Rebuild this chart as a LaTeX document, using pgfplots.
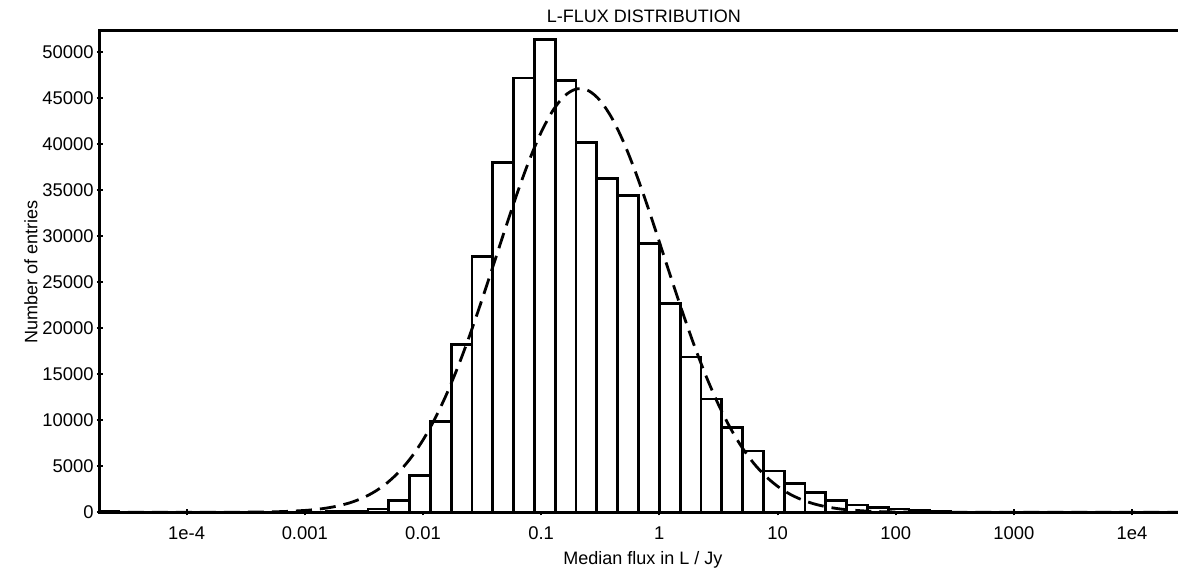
\documentclass[border=0pt]{standalone}
\usepackage{fontspec}
\setmainfont{Liberation Sans}
\usepackage{pgfplots}
\pgfplotsset{compat=1.18}
\begin{document}
\begin{tikzpicture}
\begin{axis}[
  name=ax, anchor=south west, at={(0pt,0pt)},
  width=539pt, height=240.65pt, scale only axis,
  xmode=log, log basis x=10,
  xmin=1.850e-5, xmax=24480,
  ymin=0, ymax=52250,
  axis line style={draw=none},
  xtick={1e-4,1e-3,0.01,0.1,1,10,100,1000,1e4},
  xticklabels={1e-4,0.001,0.01,0.1,1,10,100,1000,1e4},
  xminorticks=false,
  ytick={0,5000,10000,15000,20000,25000,30000,35000,40000,45000,50000},
  scaled y ticks=false,
  yticklabel style={/pgf/number format/1000 sep={}, /pgf/number format/assume math mode=true, xshift=1.8pt},
  xtick pos=bottom, ytick pos=left,
  tick align=center, major tick length=3pt,
  tick style={line width=1pt, black},
  ticklabel style={font=\fontsize{9.2}{10}\selectfont},
  xticklabel style={yshift=-2pt},
  title={L-FLUX DISTRIBUTION},
  every axis title shift=0pt,
  title style={at={(axis description cs:0.5046,1.0312)}, anchor=center, yshift=0pt, font=\fontsize{9}{10}\selectfont},
  xlabel={Median flux in L / Jy},
  xlabel style={at={(axis description cs:0.5037,-0.099)}, anchor=center, font=\fontsize{9}{10}\selectfont},
  ylabel={Number of entries},
  ylabel style={at={(axis description cs:-0.064,0.5)}, anchor=center, font=\fontsize{9}{10}\selectfont},
]
% histogram bins: edges at 1.5^k
\addplot[ybar interval, fill=white, draw=black, line width=1.4pt] coordinates {
(1.760e-5,150) (2.640e-5,0)
};
\addplot[ybar interval, fill=white, draw=black, line width=1.4pt] coordinates {
(0.00101496,30)
(0.00152244,50)
(0.00228366,80)
(0.00342549,350)
(0.00513823,1250)
(0.00770735,3990)
(0.0115610,9830)
(0.0173415,18240)
(0.0260123,27780)
(0.0390184,38000)
(0.0585277,47150)
(0.0877915,51300)
(0.131687,46850)
(0.197531,40150)
(0.296296,36250)
(0.444444,34350)
(0.666667,29150)
(1,22700)
(1.5,16850)
(2.25,12300)
(3.375,9230)
(5.0625,6650)
(7.59375,4480)
(11.390625,3150)
(17.0859,2170)
(25.6289,1260)
(38.4434,800)
(57.665,480)
(86.498,350)
(129.746,250)
(194.62,100)
(291.93,0)
};
% fitted curve (dashed)
\addplot[black, line width=1.4pt, dash pattern=on 8pt off 4pt, smooth] coordinates {
(2e-5,0) (3.1623e-4,15) (6.3096e-4,76) (1e-3,202) (1.2589e-3,318) (1.5849e-3,492)
(1.9953e-3,747) (2.5119e-3,1109) (3.1623e-3,1615) (3.9811e-3,2306) (5.0119e-3,3228)
(6.3096e-3,4427) (7.9433e-3,5952) (1e-2,7843) (1.2589e-2,10134) (1.5849e-2,12829)
(1.9953e-2,15925) (2.5119e-2,19371) (3.1623e-2,23101) (3.9811e-2,26997)
(5.0119e-2,30930) (6.3096e-2,34735) (7.9433e-2,38235) (0.1,41253) (0.12589,43631)
(0.15849,45227) (0.19953,45959) (0.25119,45775) (0.31623,44689) (0.39811,42766)
(0.50119,40115) (0.63096,36882) (0.79433,33240) (1,29362) (1.2589,25426)
(1.5849,21580) (1.9953,17952) (2.5119,14640) (3.1623,11702) (3.9811,9169)
(5.0119,7040) (6.3096,5299) (7.9433,3911) (10,2829) (12.589,2005) (15.849,1393)
(19.953,949) (25.119,633) (31.623,415) (39.811,266) (63.096,103) (100,37)
(251.19,3) (1000,0) (24480,0)
};
\end{axis}
\draw[line width=1.5pt, line join=miter, black] (ax.north east) -- (ax.north west) -- (ax.south west) -- (ax.south east);
\pgfresetboundingbox
\path[use as bounding box] (-50pt,-32.35pt) rectangle (539pt,256.15pt);
\end{tikzpicture}
\end{document}
